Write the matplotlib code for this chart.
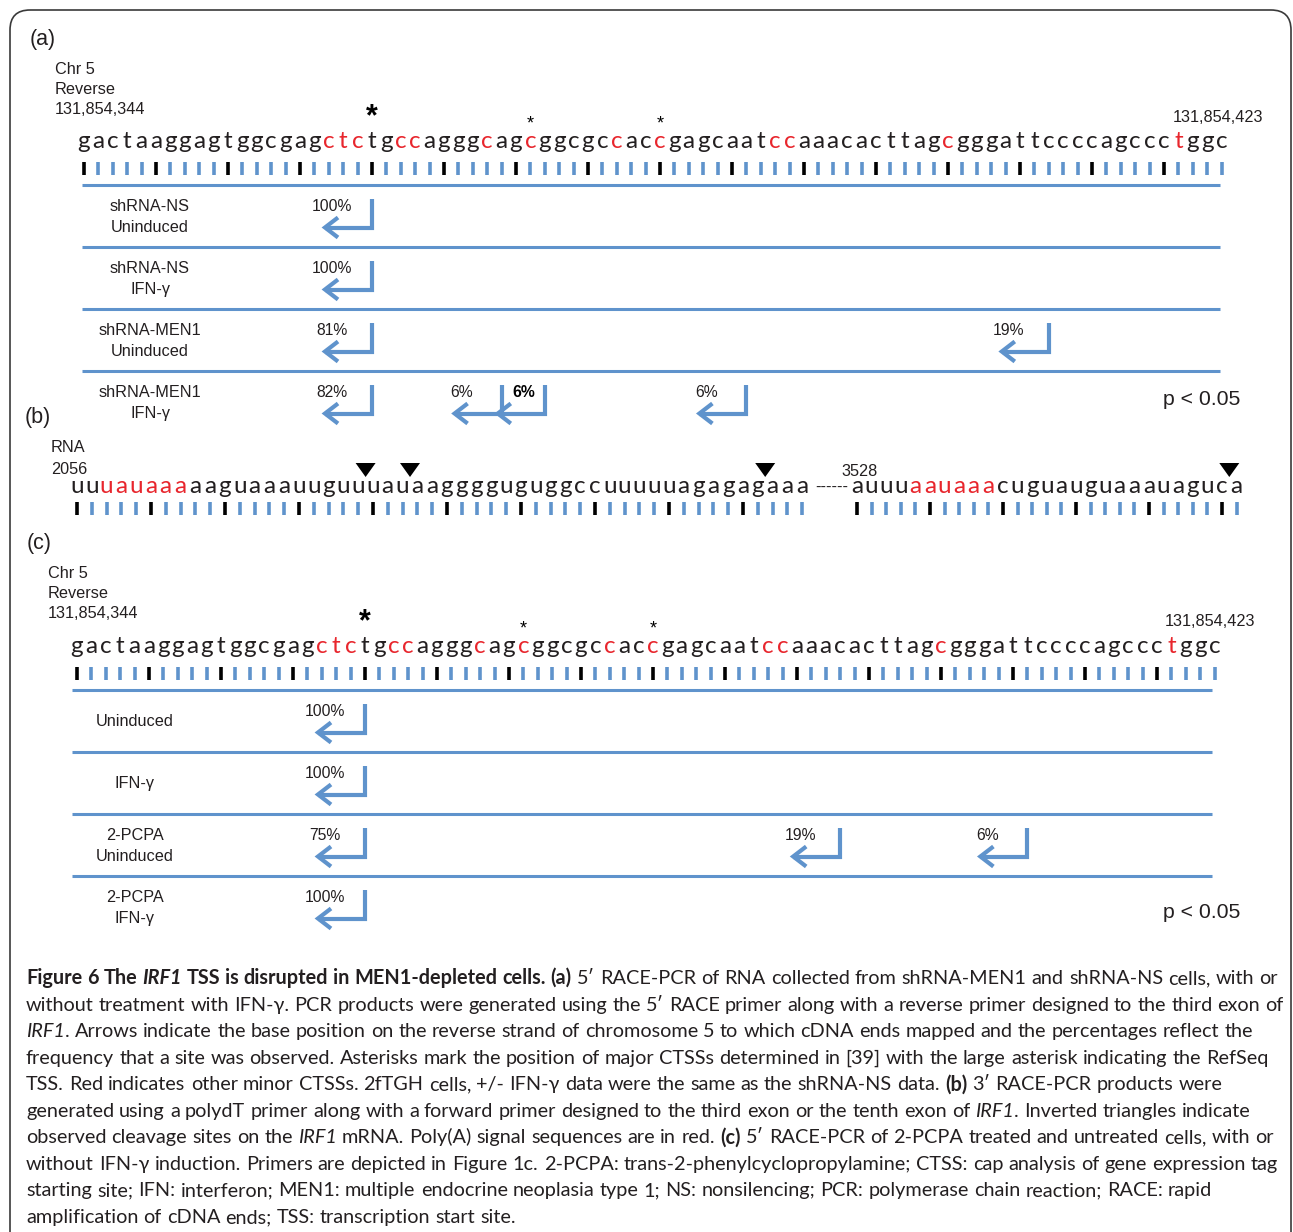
import matplotlib
matplotlib.use("Agg")
import matplotlib.pyplot as plt
from matplotlib.patches import FancyBboxPatch, Polygon

# ---------------- data ----------------
# IRF1 promoter region, chr5 reverse strand
dna_seq = "gactaaggagtggcgagctctgccagggcagcggcgccaccgagcaatccaaacacttagcgggattccccagccctggc"
dna_start = "131,854,344"
dna_end = "131,854,423"
dna_minor_ctss = [18, 19, 20, 23, 24, 29, 32, 38, 41, 49, 50, 61, 77]   # red bases
refseq_tss = 21                                                          # large asterisk
major_ctss = [32, 41]                                                    # small asterisks

# (a) 5' RACE, shRNA cells
a_rows = [["shRNA-NS", "Uninduced"], ["shRNA-NS", "IFN-γ"],
          ["shRNA-MEN1", "Uninduced"], ["shRNA-MEN1", "IFN-γ"]]
a_sites = [[21], [21], [21, 68], [21, 30, 33, 47]]
a_pct = [[100], [100], [81, 19], [82, 6, 6, 6]]
a_bold = [[False], [False], [False, False], [False, False, True, False]]

# (c) 5' RACE, 2-PCPA treatment
c_rows = [["Uninduced"], ["IFN-γ"], ["2-PCPA", "Uninduced"], ["2-PCPA", "IFN-γ"]]
c_sites = [[21], [21], [21, 54, 67], [21]]
c_pct = [[100], [100], [75, 19, 6], [100]]

# (b) 3' RACE, IRF1 mRNA; cleavage sites given as the base they follow
rna_seg1 = "uuuauaaaaaguaaauuguuuauaagggguguggccuuuuuagagagaaa"
rna_seg1_start = "2056"
rna_seg1_polya = [3, 4, 5, 6, 7, 8]
rna_seg1_cleave_after = [20, 23, 47]
rna_seg2 = "auuuaauaaacuguauguaaauaguca"
rna_seg2_start = "3528"
rna_seg2_polya = [5, 6, 7, 8, 9, 10]
rna_seg2_cleave_after = [26]

significance = "p < 0.05"

caption_lines = [
    [("Figure 6 The ", "bold", "normal"), ("IRF1", "bold", "italic"),
     (" TSS is disrupted in MEN1-depleted cells. (a)", "bold", "normal"),
     (" 5\u2032 RACE-PCR of RNA collected from shRNA-MEN1 and shRNA-NS cells, with or", "normal", "normal")],
    [("without treatment with IFN-\u03b3. PCR products were generated using the 5\u2032 RACE primer along with a reverse primer designed to the third exon of", "normal", "normal")],
    [("IRF1", "normal", "italic"),
     (". Arrows indicate the base position on the reverse strand of chromosome 5 to which cDNA ends mapped and the percentages reflect the", "normal", "normal")],
    [("frequency that a site was observed. Asterisks mark the position of major CTSSs determined in [39] with the large asterisk indicating the RefSeq", "normal", "normal")],
    [("TSS. Red indicates other minor CTSSs. 2fTGH cells, +/- IFN-\u03b3 data were the same as the shRNA-NS data. ", "normal", "normal"),
     ("(b)", "bold", "normal"), (" 3\u2032 RACE-PCR products were", "normal", "normal")],
    [("generated using a polydT primer along with a forward primer designed to the third exon or the tenth exon of ", "normal", "normal"),
     ("IRF1", "normal", "italic"), (". Inverted triangles indicate", "normal", "normal")],
    [("observed cleavage sites on the ", "normal", "normal"), ("IRF1", "normal", "italic"),
     (" mRNA. Poly(A) signal sequences are in red. ", "normal", "normal"), ("(c)", "bold", "normal"),
     (" 5\u2032 RACE-PCR of 2-PCPA treated and untreated cells, with or", "normal", "normal")],
    [("without IFN-\u03b3 induction. Primers are depicted in Figure 1c. 2-PCPA: trans-2-phenylcyclopropylamine; CTSS: cap analysis of gene expression tag", "normal", "normal")],
    [("starting site; IFN: interferon; MEN1: multiple endocrine neoplasia type 1; NS: nonsilencing; PCR: polymerase chain reaction; RACE: rapid", "normal", "normal")],
    [("amplification of cDNA ends; TSS: transcription start site.", "normal", "normal")],
]

# ---------------- canvas (1 data unit = 1 pixel) ----------------
W, H = 1293, 1232
fig = plt.figure(figsize=(W / 100, H / 100), dpi=100)
ax = fig.add_axes([0, 0, 1, 1])
ax.set_xlim(0, W)
ax.set_ylim(H, 0)
ax.axis("off")

BLUE = "#5f93cc"
RED = "#e8262d"
INK = "#231f20"
LABEL_FONT = ["Liberation Sans", "DejaVu Sans"]
SEQ_FONT = ["Lato", "DejaVu Sans"]
CAP_FONT = ["Lato", "DejaVu Sans"]
DNA_STEP = 14.4      # pixels per base in the genomic panels
LBL = 11.7           # label font size

ax.add_patch(FancyBboxPatch((10, 10), 1281, 1400, boxstyle="round,pad=0,rounding_size=20",
                            fill=False, ec="#3a3a3a", lw=1.2))


def base_x(x0, pos, step=DNA_STEP):
    return x0 + (pos - 1) * step


def label(x, y, s, size=LBL, ha="left", **kw):
    ax.text(x, y, s, ha=ha, va="center", fontsize=size, family=LABEL_FONT, color=INK, **kw)


def draw_sequence(seq, x0, baseline, red, tick_top, step=DNA_STEP):
    n = len(seq)
    for i, ch in enumerate(seq, start=1):
        ax.text(base_x(x0, i, step), baseline, ch, ha="center", va="baseline", fontsize=17.5,
                family=SEQ_FONT, color=RED if i in red else INK)
    xs = [base_x(x0, i, step) for i in range(1, n + 1)]
    cols = ["black" if i % 5 == 1 else BLUE for i in range(1, n + 1)]
    ax.vlines(xs, tick_top, tick_top + 13, colors=cols, linewidth=2.6)


def draw_tss_arrow(x, line_y, pct, bold=False):
    top, bot = line_y + 14, line_y + 43
    tip = x - 47
    ax.plot([x, x, tip], [top, bot, bot], color=BLUE, lw=3,
            solid_joinstyle="miter", solid_capstyle="butt")
    ax.plot([tip + 13, tip, tip + 13], [bot - 10, bot, bot + 10], color=BLUE, lw=3,
            solid_joinstyle="miter", solid_capstyle="butt")
    ax.text(x - (21 if bold else 40), line_y + 22, f"{pct}%", ha="center", va="center",
            fontsize=11.3, family=LABEL_FONT, color="black" if bold else INK,
            fontweight="bold" if bold else "normal")


def draw_race_panel(x0, top, seq_base, rows, sites, pcts, bolds, lab_x, line_x1, line_x2,
                    end_x, end_y, p_dy):
    label(x0 - 29, top + 0, "Chr 5")
    label(x0 - 29, top + 21, "Reverse")
    label(x0 - 29, top + 41, dna_start)
    label(end_x, end_y, dna_end)
    draw_sequence(dna_seq, x0, seq_base, dna_minor_ctss, seq_base + 14)
    ax.text(base_x(x0, refseq_tss), seq_base - 23, "*", ha="center", va="baseline",
            fontsize=22, fontweight="bold", family=LABEL_FONT, color="black")
    for p in major_ctss:
        ax.text(base_x(x0, p), seq_base - 20, "*", ha="center", va="baseline",
                fontsize=13, family=LABEL_FONT, color="black")
    line0 = seq_base + 36.5
    for r, names in enumerate(rows):
        ly = line0 + r * 62
        ax.plot([line_x1, line_x2], [ly, ly], color=BLUE, lw=2.2, solid_capstyle="butt")
        if len(names) == 2:
            label(lab_x, ly + 22, names[0], ha="center")
            label(lab_x, ly + 43, names[1], ha="center")
        else:
            label(lab_x, ly + 32, names[0], ha="center")
        for k, (s, pc) in enumerate(zip(sites[r], pcts[r])):
            draw_tss_arrow(base_x(x0, s), ly, pc, bolds[r][k] if bolds else False)
    label(1240, line0 + 3 * 62 + p_dy, significance, size=15.3, ha="right")


# (a)
label(30, 40, "(a)", size=15.5)
draw_race_panel(84, 69, 148, a_rows, a_sites, a_pct, a_bold, 150, 82, 1220, 1173, 118, 29)

# (b)
label(25, 417, "(b)", size=15.5)
label(51, 448, "RNA")
label(51, 469, rna_seg1_start)
b_base = 493
segments = [(rna_seg1, 77, 14.8, rna_seg1_polya, rna_seg1_cleave_after),
            (rna_seg2, 857, 14.6, rna_seg2_polya, rna_seg2_cleave_after)]
for seq, x0, step, polya, cleave in segments:
    draw_sequence(seq, x0, b_base, polya, b_base + 9, step)
    for s in cleave:
        cx = base_x(x0, s + 0.5, step)
        ax.add_patch(Polygon([(cx - 10, 463), (cx + 10, 463), (cx, 477)], closed=True,
                             fc="black", ec="none"))
ax.text(832, b_base - 6, "------", ha="center", va="center", fontsize=12, family=LABEL_FONT, color=INK)
label(841, 471, rna_seg2_start)

# (c)
label(27, 544, "(c)", size=15.5)
draw_race_panel(77, 573, 653, c_rows, c_sites, c_pct, None, 135, 72, 1212, 1165, 622, 37)

# ---------------- caption ----------------
renderer = fig.canvas.get_renderer()


def text_width(s, weight, style, size):
    t = ax.text(0, 0, s, fontsize=size, fontweight=weight, fontstyle=style, family=CAP_FONT)
    w = t.get_window_extent(renderer=renderer).width
    t.remove()
    return w


def lay_line(runs, x, y, size, draw):
    for text, weight, style in runs:
        sp = text_width("x x", weight, style, size) - text_width("xx", weight, style, size)
        parts = text.split(" ")
        for i, part in enumerate(parts):
            if i > 0:
                x += sp
            if part:
                if draw:
                    ax.text(x, y, part, fontsize=size, fontweight=weight, fontstyle=style,
                            family=CAP_FONT, color=INK, ha="left", va="baseline")
                x += text_width(part, weight, style, size)
    return x


cap_left, cap_right = 26, 1278
base_size = 13.0
natural = max(lay_line(caption_lines[i], 0, 0, base_size, False) for i in (0, 1))
cap_size = base_size * (cap_right - cap_left) / natural
for i, runs in enumerate(caption_lines):
    lay_line(runs, cap_left, 984 + 26.55 * i, cap_size, True)

fig.savefig("out.png", dpi=100)
